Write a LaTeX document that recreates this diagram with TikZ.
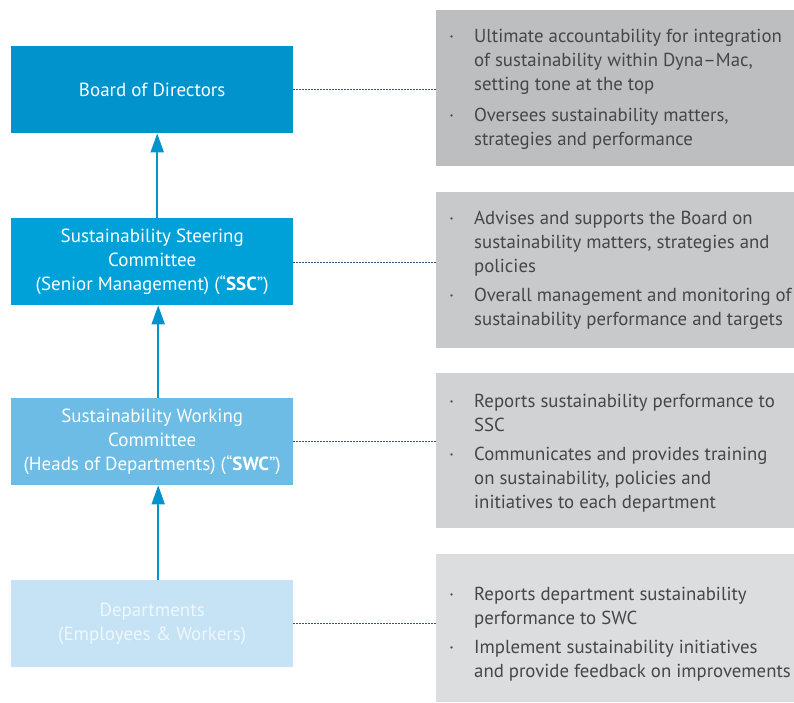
\documentclass[tikz,border=0pt]{standalone}
\usepackage{fontspec}
\setmainfont{PT Sans}
\usetikzlibrary{arrows.meta}
\definecolor{bA}{HTML}{0093CC}
\definecolor{bB}{HTML}{00A0D8}
\definecolor{bC}{HTML}{6CBCE5}
\definecolor{bD}{HTML}{C5E3F4}
\definecolor{tD}{HTML}{EEF7FC}
\definecolor{gA}{HTML}{BDBEC0}
\definecolor{gB}{HTML}{C8C9CB}
\definecolor{gC}{HTML}{D1D2D4}
\definecolor{gD}{HTML}{DCDDDF}
\definecolor{gtxt}{HTML}{454648}
\definecolor{dotc}{HTML}{2F5478}
\newcommand\bdot{\hspace{5pt}·}
\begin{document}
\begin{tikzpicture}[x=1pt,y=-1pt,
  rolebox/.style={draw=none,inner sep=0pt,minimum width=282pt,minimum height=87pt,anchor=north west,align=center,text=white,font=\fontsize{19}{24}\selectfont},
  infobox/.style={draw=none,inner sep=0pt,minimum width=358pt,anchor=north west},
  infotext/.style={inner sep=0pt,anchor=north west,align=left,text=gtxt,font=\fontsize{18.8}{24}\selectfont},
  uparrow/.style={draw=bA,line width=2pt,-{Triangle[length=19pt,width=13pt]}},
  link/.style={draw=dotc,line width=1.4pt,dash pattern=on 1.4pt off 1.6pt}]
\useasboundingbox (0,0) rectangle (794,702);
% left boxes
\node[rolebox,fill=bA] (bod) at (11,46) {Board of Directors};
\node[rolebox,fill=bB] (ssc) at (11,218) {Sustainability Steering\\Committee\\(Senior Management) (“\textbf{SSC}”)};
\node[rolebox,fill=bC] (swc) at (11,398) {Sustainability Working\\Committee\\(Heads of Departments) (“\textbf{SWC}”)};
\node[rolebox,fill=bD,text=tD] (dep) at (11,580) {Departments\\(Employees \& Workers)};
% right boxes
\node[infobox,fill=gA,minimum height=156pt] (ia) at (436,10) {};
\node[infobox,fill=gB,minimum height=156pt] (ib) at (436,192) {};
\node[infobox,fill=gC,minimum height=155pt] (ic) at (436,373) {};
\node[infobox,fill=gD,minimum height=148pt] (id) at (436,554) {};
% texts
\node[infotext] (ta) at (444,25) {\begin{tabular}{@{}p{30pt}@{}l@{}}
\bdot& Ultimate accountability for integration\\
 & of sustainability within Dyna–Mac,\\
 & setting tone at the top\\[7pt]
\bdot& Oversees sustainability matters,\\
 & strategies and performance
\end{tabular}};
\node[infotext] (tb) at (444,207) {\begin{tabular}{@{}p{30pt}@{}l@{}}
\bdot& Advises and supports the Board on\\
 & sustainability matters, strategies and\\
 & policies\\[5pt]
\bdot& Overall management and monitoring of\\
 & sustainability performance and targets
\end{tabular}};
\node[infotext] (tc) at (444,390) {\begin{tabular}{@{}p{30pt}@{}l@{}}
\bdot& Reports sustainability performance to\\
 & SSC\\[5pt]
\bdot& Communicates and provides training\\
 & on sustainability, policies and\\
 & initiatives to each department
\end{tabular}};
\node[infotext] (td) at (444,583) {\begin{tabular}{@{}p{30pt}@{}l@{}}
\bdot& Reports department sustainability\\
 & performance to SWC\\[5pt]
\bdot& Implement sustainability initiatives\\
 & and provide feedback on improvements
\end{tabular}};
% arrows
\draw[uparrow] ([xshift=5pt]ssc.north) -- ([xshift=5pt]bod.south);
\draw[uparrow] ([xshift=6pt]swc.north) -- ([xshift=6pt]ssc.south);
\draw[uparrow] ([xshift=6pt]dep.north) -- ([xshift=6pt]swc.south);
% dotted links
\draw[link] (bod.east) -- (bod.east -| ia.west);
\draw[link] ([yshift=-1pt]ssc.east) -- ([yshift=-1pt]ssc.east -| ib.west);
\draw[link] (swc.east) -- (swc.east -| ic.west);
\draw[link] (dep.east) -- (dep.east -| id.west);
\end{tikzpicture}
\end{document}
